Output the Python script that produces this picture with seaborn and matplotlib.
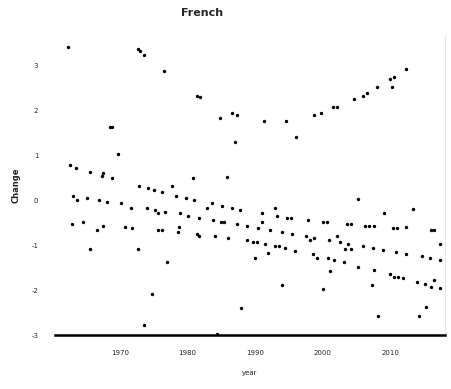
import matplotlib
matplotlib.use("Agg")
import matplotlib.pyplot as plt
import seaborn as sns
import pandas as pd

title = "French"
x_label = "year"
y_label = "Change"
x_ticks = [1970, 1980, 1990, 2000, 2010]
y_ticks = [-3, -2, -1, 0, 1, 2, 3]

years = [
    1962.3, 1972.7, 1973.0, 1973.6, 1976.5, 1981.4, 1981.9, 1984.8, 1968.5, 1968.8,
    1969.7, 1962.6, 1963.5, 1965.6, 1967.5, 1967.3, 1968.8, 1980.8, 1985.9, 1972.8,
    1974.1, 1975.0, 1976.2, 1977.7, 1978.3, 1979.8, 1981.0, 1963.0, 1963.6, 1965.1,
    1966.9, 1968.1, 1970.1, 1971.6, 1974.0, 1975.2, 1975.6, 1976.7, 1978.9, 1980.1,
    1981.7, 1982.9, 1983.6, 1985.1, 1986.6, 1987.8, 1983.8, 1985.0, 1985.4, 1987.3,
    1988.8, 1962.9, 1964.5, 1966.6, 1967.5, 1970.7, 1971.8, 1975.6, 1976.2, 1978.6,
    1978.7, 1981.4, 1981.7, 1984.1, 1986.0, 1988.8, 1965.6, 1972.7, 1977.0, 1987.0,
    1974.7, 1973.6, 1984.4, 2012.4, 2010.0, 2010.6, 2010.3, 2008.1, 2006.6, 2006.0,
    2004.7, 2002.1, 2001.6, 1999.8, 1998.7, 1986.6, 1987.3, 1991.3, 1994.6, 1996.1,
    2005.3, 1993.0, 1993.3, 1991.0, 1994.7, 1995.3, 1997.9, 2000.1, 2000.7, 1991.0,
    2003.6, 2004.2, 2006.3, 2006.9, 2007.6, 2009.1, 2013.4, 2010.4, 2011.0, 2012.4,
    2016.1, 2016.5, 2017.4, 1990.4, 1992.2, 1994.0, 1995.5, 1997.6, 1998.1, 1998.7,
    2001.0, 2002.6, 2002.1, 2003.8, 2005.9, 2007.5, 2009.0, 2010.9, 2012.4, 2014.7,
    2015.9, 2017.3, 1989.7, 1990.3, 1991.5, 1991.9, 1993.0, 1993.6, 1994.4, 1995.9,
    1990.0, 1998.6, 1999.2, 2000.8, 2001.7, 2003.2, 2003.3, 2004.2, 2001.1, 2005.3,
    2007.6, 2009.9, 2010.6, 2011.2, 2011.9, 2014.0, 2015.2, 2016.1, 2016.5, 2017.3,
    1994.0, 2000.1, 2007.3, 2015.3, 1987.9, 2008.2, 2014.3,
]
changes = [
    3.40, 3.36, 3.31, 3.22, 2.87, 2.31, 2.29, 1.82, 1.62, 1.62,
    1.02, 0.78, 0.71, 0.62, 0.60, 0.53, 0.49, 0.49, 0.51, 0.31,
    0.27, 0.22, 0.18, 0.31, 0.09, 0.04, 0.00, 0.09, 0.00, 0.04,
    0.00, -0.04, -0.07, -0.18, -0.18, -0.22, -0.29, -0.27, -0.29, -0.36,
    -0.40, -0.18, -0.07, -0.13, -0.18, -0.22, -0.44, -0.49, -0.49, -0.53,
    -0.58, -0.53, -0.49, -0.67, -0.58, -0.60, -0.62, -0.67, -0.67, -0.71,
    -0.60, -0.76, -0.80, -0.80, -0.84, -0.89, -1.09, -1.09, -1.38, 1.30,
    -2.09, -2.78, -2.98, 2.91, 2.69, 2.73, 2.51, 2.51, 2.38, 2.31,
    2.24, 2.07, 2.07, 1.93, 1.89, 1.93, 1.89, 1.76, 1.76, 1.40,
    0.02, -0.18, -0.36, -0.29, -0.40, -0.40, -0.44, -0.49, -0.49, -0.49,
    -0.53, -0.53, -0.58, -0.58, -0.58, -0.29, -0.20, -0.62, -0.62, -0.60,
    -0.67, -0.67, -0.98, -0.62, -0.67, -0.71, -0.76, -0.80, -0.89, -0.84,
    -0.89, -0.93, -0.80, -0.98, -1.02, -1.07, -1.11, -1.16, -1.20, -1.24,
    -1.29, -1.33, -0.93, -0.93, -0.98, -1.18, -1.02, -1.02, -1.07, -1.13,
    -1.29, -1.20, -1.29, -1.29, -1.33, -1.38, -1.09, -1.09, -1.58, -1.49,
    -1.56, -1.64, -1.71, -1.71, -1.73, -1.82, -1.87, -1.93, -1.78, -1.96,
    -1.89, -1.98, -1.89, -2.38, -2.40, -2.58, -2.58,
]

df = pd.DataFrame({"year": years, "change": changes})

sns.set_style("white")
plt.rcParams["font.family"] = ["DejaVu Sans"]

fig = plt.figure(figsize=(4.52, 3.89), dpi=100)
ax = fig.add_axes([55 / 452, 1 - 335 / 389, 390 / 452, 300 / 389])

sns.scatterplot(data=df, x="year", y="change", color="black", s=6,
                linewidth=0, ax=ax)

ax.set_xlim(1960.4, 2018.1)
ax.set_ylim(-3.0, 3.67)
ax.set_xticks(x_ticks)
ax.set_xticklabels([str(t) for t in x_ticks], fontsize=5)
ax.set_yticks(y_ticks)
ax.set_yticklabels([str(t) for t in y_ticks], fontsize=5)
ax.tick_params(axis="x", length=3, width=0.8, color="black", pad=8)
ax.tick_params(axis="y", length=0, pad=12)

ax.set_xlabel(x_label, fontsize=5, labelpad=10)
ax.set_ylabel(y_label, fontsize=6, fontweight="bold", labelpad=8)
ax.set_title(title, fontsize=8, fontweight="bold", x=0.377, pad=14)

for side in ["top", "left"]:
    ax.spines[side].set_visible(False)
ax.spines["bottom"].set_color("black")
ax.spines["bottom"].set_linewidth(1.8)
ax.spines["right"].set_color("#e6e6e6")
ax.spines["right"].set_linewidth(0.8)

fig.savefig("out.png", dpi=100)
